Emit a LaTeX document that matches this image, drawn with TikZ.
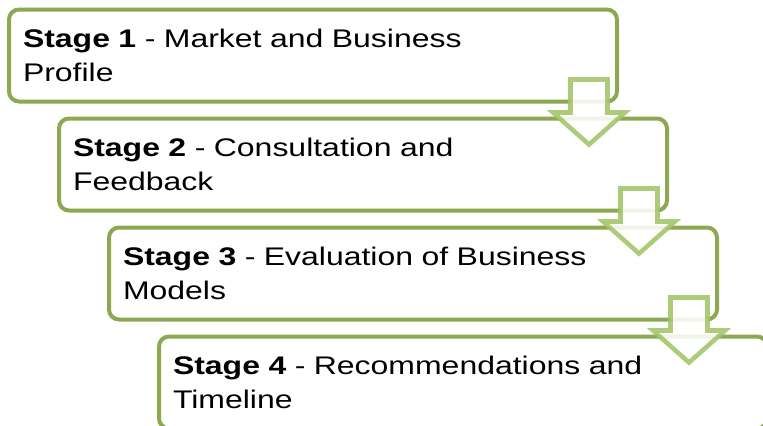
\documentclass[tikz,border=0pt]{standalone}
\usepackage{fontspec}
\setmainfont{Liberation Sans}[FakeStretch=1.255]
\usetikzlibrary{calc}
\definecolor{boxgreen}{RGB}{140,168,80}
\definecolor{arrowgreen}{RGB}{163,196,104}
\tikzset{
  stagebox/.style={draw=boxgreen,line width=3pt,rounded corners=7.5pt,fill=white,
    minimum width=456pt,minimum height=69pt,inner xsep=10.5pt,inner ysep=0pt,
    text width=435pt,align=left,
    font=\fontsize{19.1}{25.9}\selectfont},
  stagearrow/.style={draw=arrowgreen,line width=3.4pt,fill=white,opacity=0.88,line join=miter}
}
\begin{document}
\begin{tikzpicture}[x=0.75pt,y=0.75pt]
  \useasboundingbox (0,0) rectangle (763,-425);
  \clip (0,0) rectangle (763,-425);
  % the four stages, each one step right and down
  \node[stagebox] (s1) at (313,-55.5) {\textbf{Stage 1} - Market and Business\\Profile};
  \node[stagebox] (s2) at (363,-164.5) {\textbf{Stage 2} - Consultation and\\Feedback};
  \node[stagebox] (s3) at (413,-273.5) {\textbf{Stage 3} - Evaluation of Business\\Models};
  \node[stagebox] (s4) at (463,-382.5) {\textbf{Stage 4} - Recommendations and\\Timeline};
  % block arrows over the lower right corners
  \foreach \s in {s1,s2,s3}
    \draw[stagearrow,shift={($(\s.south east)+(-30,24)$)}]
      (-18.5,0) -- (18.5,0) -- (18.5,-33) -- (36,-33) -- (0,-65)
      -- (-36,-33) -- (-18.5,-33) -- cycle;
\end{tikzpicture}
\end{document}
